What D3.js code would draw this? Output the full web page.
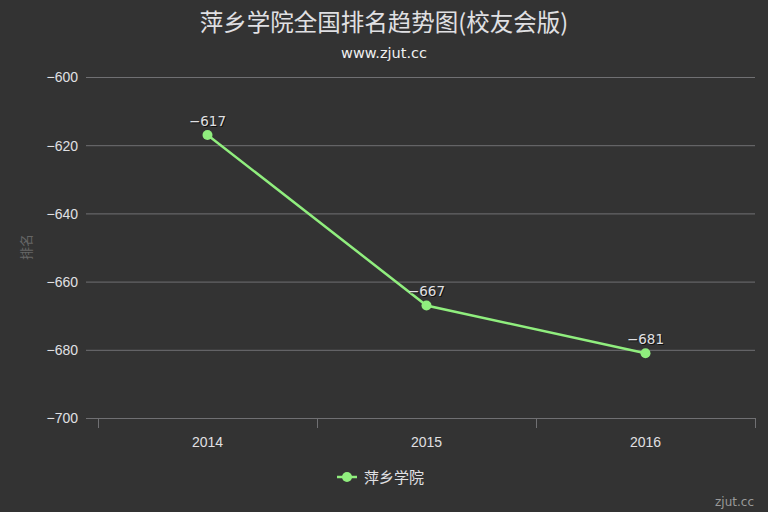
<!DOCTYPE html>
<html><head><meta charset="utf-8">
<script src="https://cdn.jsdelivr.net/npm/d3@7"></script>
<style>
html,body{margin:0;padding:0;background:#333333;}
svg{display:block;font-family:"Lucida Grande","DejaVu Sans","Noto Sans CJK SC",sans-serif;}
</style></head>
<body>
<svg id="c" width="768" height="512"></svg>
<script>
const categories = ["2014", "2015", "2016"];
const seriesName = "萍乡学院";
const values = [-617, -667, -681];
const yTicks = [-600, -620, -640, -660, -680, -700];
const titleText = "萍乡学院全国排名趋势图(校友会版)";
const subtitleText = "www.zjut.cc";
const yTitle = "排名";
const credit = "zjut.cc";

(function(){
const svg = d3.select("#c");
const W = 768, H = 512;
const pLeft = 98, pRight = 755, pTop = 77, pBottom = 418;
svg.append("rect").attr("width", W).attr("height", H).attr("fill", "#333333");

const x = d3.scaleBand().domain(categories).range([pLeft, pRight]).padding(0);
const y = d3.scaleLinear().domain([-700, -600]).range([pBottom, pTop]);

const cjk = '"Noto Sans CJK SC", sans-serif';
svg.append("text").attr("x", W/2).attr("y", 31).attr("text-anchor", "middle")
  .attr("fill", "#E0E0E3").attr("font-size", 23.5).style("font-family", cjk).text(titleText);
svg.append("text").attr("x", W/2).attr("y", 58).attr("text-anchor", "middle")
  .attr("fill", "#F0F0F0").attr("font-size", 14.5).text(subtitleText);

const yAxis = d3.axisLeft(y).tickValues(yTicks).tickSize(-(pRight - 86)).tickPadding(8)
  .tickFormat(d => "\u2212" + Math.abs(d));
const gy = svg.append("g").attr("transform", `translate(86,0)`).call(yAxis);
gy.select(".domain").remove();
gy.selectAll(".tick line").attr("stroke", "#707073").attr("stroke-width", 1);
gy.selectAll(".tick text").attr("fill", "#E0E0E3").attr("font-size", 14).attr("x", -8)
  .attr("dy", "0.35em");

svg.append("text").attr("transform", "translate(31,247) rotate(-90)").attr("text-anchor", "middle")
  .attr("fill", "#666666").attr("font-size", 13).style("font-family", cjk).text(yTitle);

const gx = svg.append("g").attr("transform", `translate(0,${pBottom})`)
  .call(d3.axisBottom(x).tickSize(0).tickPadding(19));
gx.select(".domain").remove();
gx.selectAll(".tick text").attr("fill", "#E0E0E3").attr("font-size", 14);
svg.append("line").attr("x1", 86).attr("x2", pRight).attr("y1", pBottom + 0.5).attr("y2", pBottom + 0.5)
  .attr("stroke", "#707073");
const bounds = categories.map(c => x(c)).concat([x(categories[categories.length-1]) + x.bandwidth()]);
svg.selectAll(".xt").data(bounds).enter().append("line")
  .attr("x1", d => Math.round(d) + 0.5).attr("x2", d => Math.round(d) + 0.5)
  .attr("y1", pBottom).attr("y2", pBottom + 10).attr("stroke", "#707073");

const pts = categories.map((c, i) => ({c, v: values[i]}));
const line = d3.line().x(d => x(d.c) + x.bandwidth()/2).y(d => y(d.v));
svg.append("path").datum(pts).attr("d", line).attr("fill", "none")
  .attr("stroke", "#90ee7e").attr("stroke-width", 2.5);
svg.selectAll(".pt").data(pts).enter().append("circle")
  .attr("cx", d => x(d.c) + x.bandwidth()/2).attr("cy", d => y(d.v)).attr("r", 5)
  .attr("fill", "#90ee7e");

const lbl = svg.selectAll(".lb").data(pts).enter().append("g");
lbl.append("text").attr("x", d => x(d.c) + x.bandwidth()/2 + 1).attr("y", d => y(d.v) - 9 + 1)
  .attr("text-anchor", "middle").attr("font-size", 13.5)
  .attr("fill", "#000").attr("opacity", 0.7).text(d => "\u2212" + Math.abs(d.v));
lbl.append("text").attr("x", d => x(d.c) + x.bandwidth()/2).attr("y", d => y(d.v) - 9)
  .attr("text-anchor", "middle").attr("font-size", 13.5)
  .attr("fill", "#E0E0E3").text(d => "\u2212" + Math.abs(d.v));

svg.append("line").attr("x1", 337).attr("x2", 357).attr("y1", 477).attr("y2", 477)
  .attr("stroke", "#90ee7e").attr("stroke-width", 2.5);
svg.append("circle").attr("cx", 347).attr("cy", 477).attr("r", 5).attr("fill", "#90ee7e");
svg.append("text").attr("x", 364).attr("y", 482.5).attr("fill", "#E0E0E3").attr("font-size", 15)
  .style("font-family", cjk).text(seriesName);

svg.append("text").attr("x", 754).attr("y", 506).attr("text-anchor", "end")
  .attr("fill", "#999999").attr("font-size", 12).text(credit);
})();
</script>
</body></html>
